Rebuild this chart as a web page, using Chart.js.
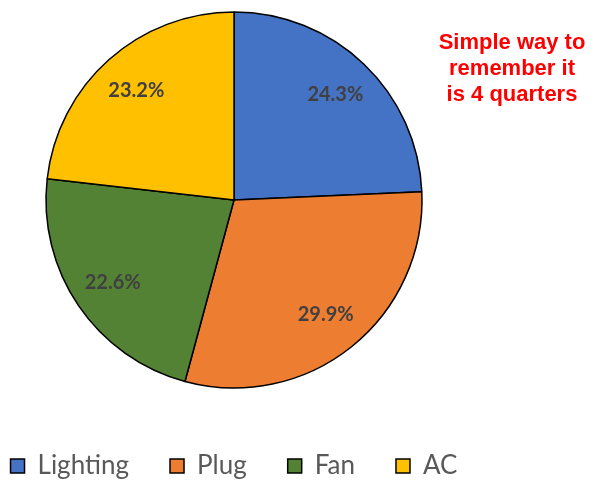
<!DOCTYPE html>
<html>
<head>
<meta charset="utf-8">
<title>Load share</title>
<script src="https://cdn.jsdelivr.net/npm/chart.js@4.4.1/dist/chart.umd.min.js"></script>
<style>
  html, body { margin: 0; padding: 0; background: #fff; overflow: hidden; width: 604px; height: 481px; }
  /* canvas is wider than the page so the legend (centred on the pie) fits on one line */
  .chart { position: absolute; left: -132px; top: -12px; width: 732px; height: 501px; }
</style>
</head>
<body>
<div class="chart"><canvas id="myChart"></canvas></div>
<script>
const categories  = ["Lighting", "Plug", "Fan", "AC"];
const shares      = [24.3, 29.9, 22.6, 23.2];
const sliceColors = ["#4472C4", "#ED7D31", "#548235", "#FFC000"];
const noteLines   = ["Simple way to", "remember it", "is 4 quarters"];

// percentage labels inside each slice
const sliceLabels = {
  id: "sliceLabels",
  afterDatasetsDraw(chart) {
    const ctx = chart.ctx;
    const meta = chart.getDatasetMeta(0);
    ctx.save();
    ctx.font = "bold 20px Lato";
    ctx.fillStyle = "#404040";
    ctx.textAlign = "center";
    ctx.textBaseline = "middle";
    meta.data.forEach((arc, i) => {
      const p = arc.getProps(["x", "y", "startAngle", "endAngle", "outerRadius"], true);
      const mid = (p.startAngle + p.endAngle) / 2;
      const r = p.outerRadius * 0.78;
      ctx.fillText(shares[i].toFixed(1) + "%", p.x + Math.cos(mid) * r, p.y + Math.sin(mid) * r);
    });
    ctx.restore();
  }
};

// red note on the right
const noteText = {
  id: "noteText",
  afterDraw(chart) {
    const ctx = chart.ctx;
    ctx.save();
    ctx.font = "bold 22px 'Liberation Sans', Arial";
    ctx.fillStyle = "#FF0000";
    ctx.textAlign = "center";
    ctx.textBaseline = "alphabetic";
    noteLines.forEach((line, i) => {
      ctx.fillText(line, 644, 61 + i * 26);
    });
    ctx.restore();
  }
};

new Chart(document.getElementById("myChart"), {
  type: "pie",
  data: {
    labels: categories,
    datasets: [{
      data: shares,
      backgroundColor: sliceColors,
      borderColor: "#000000",
      borderWidth: 1.5,
      radius: 188
    }]
  },
  options: {
    responsive: true,
    maintainAspectRatio: false,
    animation: false,
    layout: { padding: 0 },
    plugins: {
      legend: {
        position: "bottom",
        labels: {
          boxWidth: 14,
          boxHeight: 14,
          padding: 41,
          color: "#595959",
          font: { family: "Lato", size: 26 }
        }
      },
      tooltip: { enabled: false }
    }
  },
  plugins: [sliceLabels, noteText]
});
</script>
</body>
</html>
